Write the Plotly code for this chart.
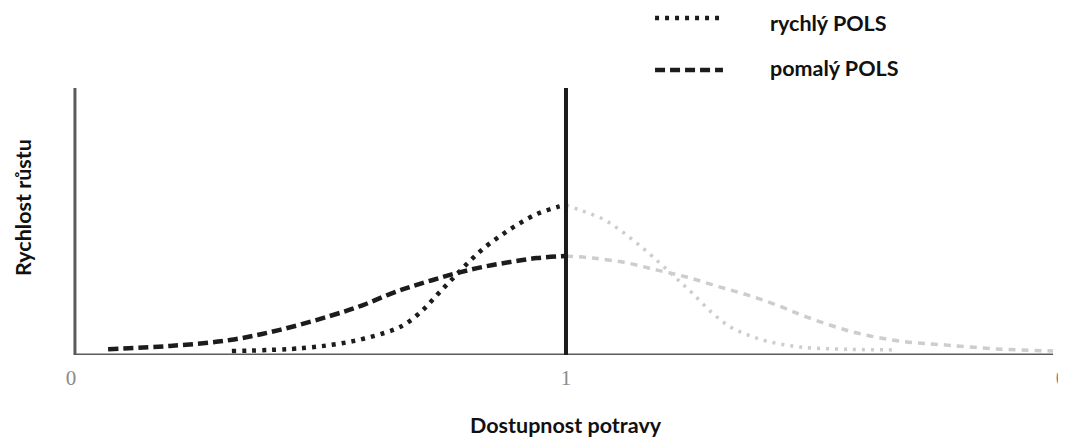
import plotly.graph_objects as go

# ---- data (x: food availability, 0..2 where 1 is the optimum; y: growth rate) ----
fast_left_x = [0.325, 0.469, 0.570, 0.651, 0.679, 0.711, 0.741, 0.772, 0.802, 0.832, 0.867, 0.901, 0.941, 0.982, 1.0]
fast_left_y = [0.015, 0.026, 0.052, 0.094, 0.120, 0.169, 0.228, 0.288, 0.345, 0.397, 0.446, 0.487, 0.528, 0.554, 0.562]

fast_right_x = [1.0, 1.034, 1.075, 1.109, 1.143, 1.176, 1.220, 1.255, 1.297, 1.333, 1.372, 1.412, 1.457, 1.497, 1.574, 1.669]
fast_right_y = [0.562, 0.539, 0.509, 0.468, 0.419, 0.367, 0.292, 0.232, 0.155, 0.104, 0.072, 0.049, 0.034, 0.026, 0.021, 0.019]

slow_left_x = [0.075, 0.200, 0.321, 0.422, 0.523, 0.590, 0.644, 0.685, 0.731, 0.780, 0.832, 0.887, 0.941, 1.0]
slow_left_y = [0.022, 0.034, 0.056, 0.094, 0.146, 0.187, 0.228, 0.255, 0.281, 0.307, 0.330, 0.348, 0.363, 0.371]

slow_right_x = [1.0, 1.055, 1.123, 1.184, 1.244, 1.305, 1.366, 1.426, 1.487, 1.580, 1.675, 1.770, 1.877, 1.984]
slow_right_y = [0.371, 0.363, 0.345, 0.318, 0.292, 0.258, 0.225, 0.187, 0.142, 0.086, 0.052, 0.037, 0.022, 0.015]

tick_vals = [0, 1, 2]
tick_text = ["0", "1", "0"]
series_names = ["rychlý POLS", "pomalý POLS"]
x_title = "Dostupnost potravy"
y_title = "Rychlost růstu"

BLACK = "#1c1c1c"
GREY = "#cdcdcd"
DOT_BLACK = "4px,6px"
DASH_BLACK = "10px,5px"
DOT_GREY = "3px,6px"
DASH_GREY = "7px,6px"

fig = go.Figure()
fig.add_trace(go.Scatter(x=fast_right_x, y=fast_right_y, mode="lines", line=dict(color=GREY, width=3.5, dash=DOT_GREY, shape="spline", smoothing=1.0), showlegend=False))
fig.add_trace(go.Scatter(x=slow_right_x, y=slow_right_y, mode="lines", line=dict(color=GREY, width=3.5, dash=DASH_GREY, shape="spline", smoothing=1.0), showlegend=False))
fig.add_trace(go.Scatter(x=slow_left_x, y=slow_left_y, mode="lines", line=dict(color=BLACK, width=4.5, dash=DASH_BLACK, shape="spline", smoothing=1.0), showlegend=False))
fig.add_trace(go.Scatter(x=fast_left_x, y=fast_left_y, mode="lines", line=dict(color=BLACK, width=4.5, dash=DOT_BLACK, shape="spline", smoothing=1.0), showlegend=False))

# axes frame lines and optimum line
AX = "#5a5a5a"
fig.add_shape(type="line", xref="x", yref="y", x0=0.008, x1=0.008, y0=0, y1=1, line=dict(color=AX, width=3))
fig.add_shape(type="line", xref="x", yref="y", x0=0.008, x1=1.984, y0=0, y1=0, line=dict(color=AX, width=3))
fig.add_shape(type="line", xref="x", yref="y", x0=1, x1=1, y0=0, y1=1, line=dict(color=BLACK, width=4))

# custom legend
fig.add_shape(type="line", xref="paper", yref="paper", x0=0.5915, x1=0.659, y0=1.262, y1=1.262,
              line=dict(color=BLACK, width=4.5, dash=DOT_BLACK))
fig.add_shape(type="line", xref="paper", yref="paper", x0=0.5915, x1=0.659, y0=1.067, y1=1.067,
              line=dict(color=BLACK, width=4.5, dash=DASH_BLACK))
LABEL_FONT = dict(family="Lato, 'Open Sans', sans-serif", size=21.5, color="#111111", weight="bold")
fig.add_annotation(xref="paper", yref="paper", x=0.7038, y=1.245, text=series_names[0], showarrow=False,
                   xanchor="left", yanchor="middle", font=LABEL_FONT)
fig.add_annotation(xref="paper", yref="paper", x=0.7038, y=1.075, text=series_names[1], showarrow=False,
                   xanchor="left", yanchor="middle", font=LABEL_FONT)

# axis titles
fig.add_annotation(xref="paper", yref="paper", x=0.503, y=-0.262, text=x_title, showarrow=False,
                   xanchor="center", yanchor="middle", font=LABEL_FONT)
fig.add_annotation(xref="paper", yref="paper", x=-0.0368, y=0.554, text=y_title, showarrow=False,
                   textangle=-90, xanchor="center", yanchor="middle", font=LABEL_FONT)

fig.update_xaxes(range=[-0.0222, 2.0101], tickvals=tick_vals, ticktext=tick_text, showgrid=False,
                 zeroline=False, showline=False, ticks="", ticklabelstandoff=8, ticklabeloverflow="allow",
                 tickfont=dict(family="'Liberation Serif', serif", size=21, color="#8a8a8a"))
fig.update_yaxes(range=[0, 1], showgrid=False, zeroline=False, showline=False, showticklabels=False, ticks="")

# the page body has an 8px margin, so the figure is drawn 8px smaller to fit the 1066x439 window
fig.update_layout(width=1058, height=431, margin=dict(l=52, r=0, t=80, b=84),
                  paper_bgcolor="white", plot_bgcolor="white", showlegend=False)

fig.write_html("out.html")
